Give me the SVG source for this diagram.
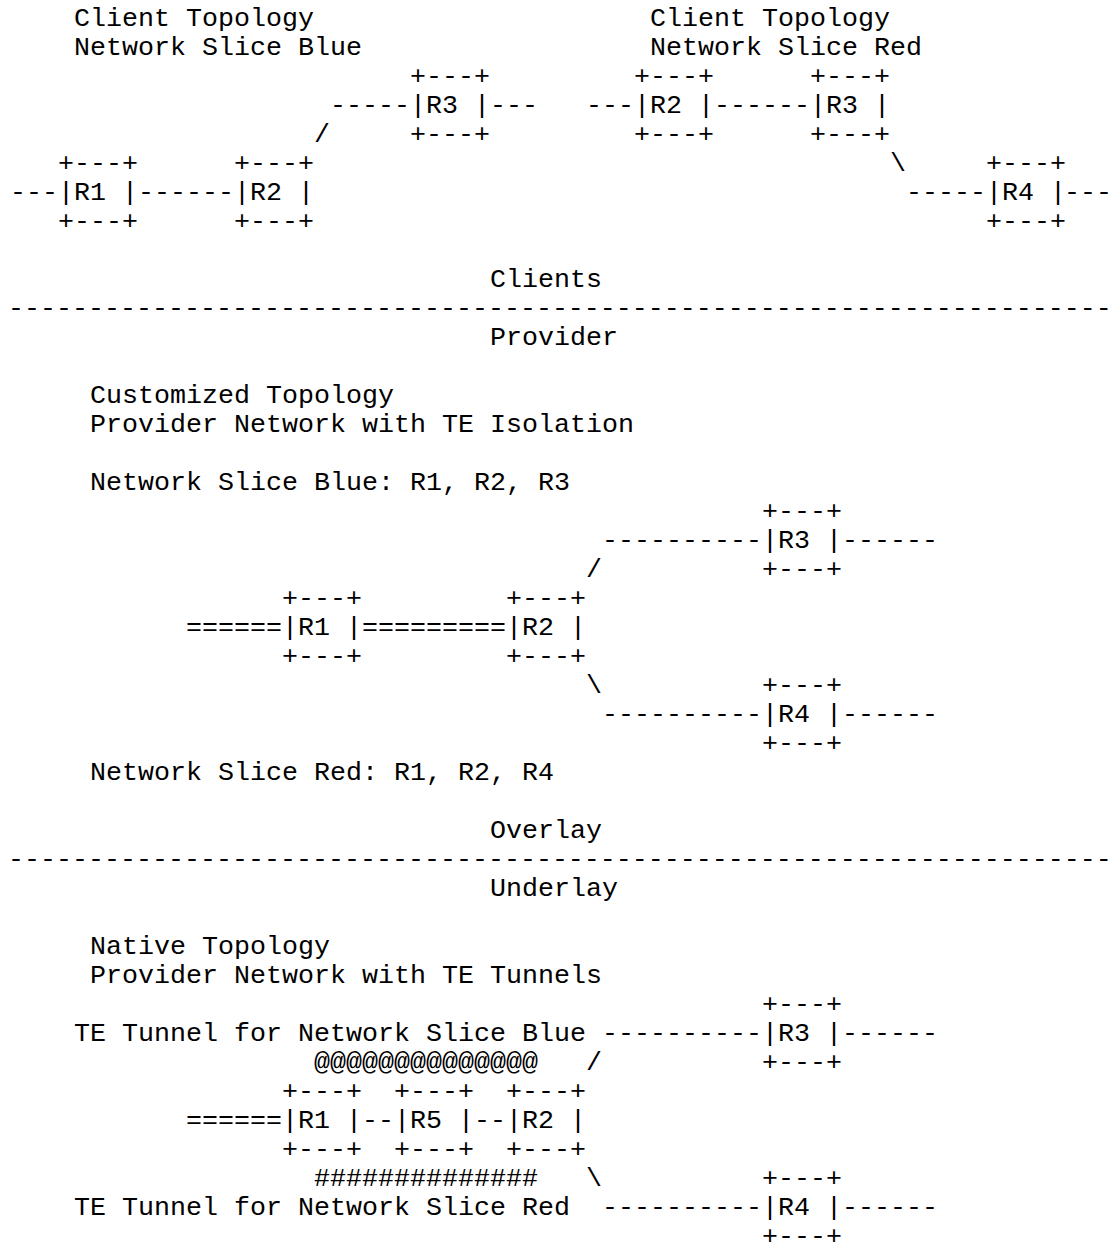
<svg xmlns="http://www.w3.org/2000/svg" width="1110" height="1259" viewBox="0 0 1110 1259" xml:space="preserve">
<style>
text{font-family:"Liberation Mono","Courier New",monospace;font-size:26.667px;fill:#000;white-space:pre}
</style>
<rect width="1110" height="1259" fill="#fff"/>
<g id="labels">
<text x="74" y="26">Client Topology</text>
<text x="650" y="26">Client Topology</text>
<text x="74" y="55">Network Slice Blue</text>
<text x="650" y="55">Network Slice Red</text>
<text x="490" y="287">Clients</text>
<text x="490" y="345">Provider</text>
<text x="90" y="403">Customized Topology</text>
<text x="90" y="432">Provider Network with TE Isolation</text>
<text x="90" y="490">Network Slice Blue: R1, R2, R3</text>
<text x="90" y="780">Network Slice Red: R1, R2, R4</text>
<text x="490" y="838">Overlay</text>
<text x="490" y="896">Underlay</text>
<text x="90" y="954">Native Topology</text>
<text x="90" y="983">Provider Network with TE Tunnels</text>
<text x="74" y="1041">TE Tunnel for Network Slice Blue</text>
<text x="74" y="1215">TE Tunnel for Network Slice Red</text>
<text x="314" y="1070">@@@@@@@@@@@@@@</text>
<text x="314" y="1186">##############</text>
</g>
<g id="dividers">
<text x="8" y="316">---------------------------------------------------------------------</text>
<text x="8" y="867">---------------------------------------------------------------------</text>
</g>
<g id="connectors">
<text x="330" y="113">-----</text>
<text x="490" y="113">---</text>
<text x="586" y="113">---</text>
<text x="714" y="113">------</text>
<text x="314" y="142">/</text>
<text x="890" y="171">\</text>
<text x="10" y="200">---</text>
<text x="138" y="200">------</text>
<text x="906" y="200">-----</text>
<text x="1064" y="200">---</text>
<text x="602" y="548">----------</text>
<text x="842" y="548">------</text>
<text x="586" y="577">/</text>
<text x="186" y="635">======</text>
<text x="362" y="635">=========</text>
<text x="586" y="693">\</text>
<text x="602" y="722">----------</text>
<text x="842" y="722">------</text>
<text x="602" y="1041">----------</text>
<text x="842" y="1041">------</text>
<text x="586" y="1070">/</text>
<text x="186" y="1128">======</text>
<text x="362" y="1128">--</text>
<text x="474" y="1128">--</text>
<text x="586" y="1186">\</text>
<text x="602" y="1215">----------</text>
<text x="842" y="1215">------</text>
</g>
<g id="client-blue-R1"><text x="58" y="171">+---+</text><text x="58" y="200">|R1 |</text><text x="58" y="229">+---+</text></g>
<g id="client-blue-R2"><text x="234" y="171">+---+</text><text x="234" y="200">|R2 |</text><text x="234" y="229">+---+</text></g>
<g id="client-blue-R3"><text x="410" y="84">+---+</text><text x="410" y="113">|R3 |</text><text x="410" y="142">+---+</text></g>
<g id="client-red-R2"><text x="634" y="84">+---+</text><text x="634" y="113">|R2 |</text><text x="634" y="142">+---+</text></g>
<g id="client-red-R3"><text x="810" y="84">+---+</text><text x="810" y="113">|R3 |</text><text x="810" y="142">+---+</text></g>
<g id="client-red-R4"><text x="986" y="171">+---+</text><text x="986" y="200">|R4 |</text><text x="986" y="229">+---+</text></g>
<g id="custom-R1"><text x="282" y="606">+---+</text><text x="282" y="635">|R1 |</text><text x="282" y="664">+---+</text></g>
<g id="custom-R2"><text x="506" y="606">+---+</text><text x="506" y="635">|R2 |</text><text x="506" y="664">+---+</text></g>
<g id="custom-R3"><text x="762" y="519">+---+</text><text x="762" y="548">|R3 |</text><text x="762" y="577">+---+</text></g>
<g id="custom-R4"><text x="762" y="693">+---+</text><text x="762" y="722">|R4 |</text><text x="762" y="751">+---+</text></g>
<g id="native-R1"><text x="282" y="1099">+---+</text><text x="282" y="1128">|R1 |</text><text x="282" y="1157">+---+</text></g>
<g id="native-R5"><text x="394" y="1099">+---+</text><text x="394" y="1128">|R5 |</text><text x="394" y="1157">+---+</text></g>
<g id="native-R2"><text x="506" y="1099">+---+</text><text x="506" y="1128">|R2 |</text><text x="506" y="1157">+---+</text></g>
<g id="native-R3"><text x="762" y="1012">+---+</text><text x="762" y="1041">|R3 |</text><text x="762" y="1070">+---+</text></g>
<g id="native-R4"><text x="762" y="1186">+---+</text><text x="762" y="1215">|R4 |</text><text x="762" y="1244">+---+</text></g>
</svg>
